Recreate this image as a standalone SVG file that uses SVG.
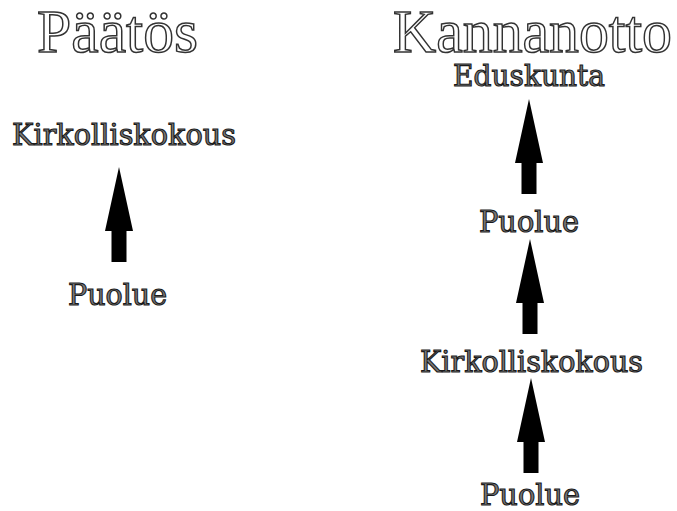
<svg xmlns="http://www.w3.org/2000/svg" width="677" height="511" viewBox="0 0 677 511">
<style>
.title{font-family:"Liberation Serif","DejaVu Serif",serif;font-size:62px;fill:#ffffff;stroke:#333333;stroke-width:1.5px}
.lbl{font-family:"DejaVu Serif","Liberation Serif",serif;font-size:29px;fill:#7a7a7a;stroke:#1a1a1a;stroke-width:1.1px}
.arr{fill:#000000}
</style>
<defs>
<path id="blk" d="M0 0 L14 64 L7.5 64 L7.5 95 L-7.5 95 L-7.5 64 L-14 64 Z"/>
</defs>
<rect width="677" height="511" fill="#ffffff"/>
<g id="title-paatos"><text class="title" x="37" y="52" textLength="161" lengthAdjust="spacingAndGlyphs">Päätös</text></g>
<g id="title-kannanotto"><text class="title" x="393" y="52" textLength="279" lengthAdjust="spacingAndGlyphs">Kannanotto</text></g>
<g id="left-kirkolliskokous"><text class="lbl" x="12" y="145" textLength="224" lengthAdjust="spacingAndGlyphs">Kirkolliskokous</text></g>
<g id="left-puolue"><text class="lbl" x="68" y="305" textLength="99" lengthAdjust="spacingAndGlyphs">Puolue</text></g>
<g id="right-eduskunta"><text class="lbl" x="453" y="86" textLength="152" lengthAdjust="spacingAndGlyphs">Eduskunta</text></g>
<g id="right-puolue-mid"><text class="lbl" x="479" y="232" textLength="100" lengthAdjust="spacingAndGlyphs">Puolue</text></g>
<g id="right-kirkolliskokous"><text class="lbl" x="420" y="372" textLength="223" lengthAdjust="spacingAndGlyphs">Kirkolliskokous</text></g>
<g id="right-puolue-bottom"><text class="lbl" x="480" y="505" textLength="100" lengthAdjust="spacingAndGlyphs">Puolue</text></g>
<g id="connectors" class="arr">
<use href="#blk" transform="translate(119,167)"/>
<use href="#blk" transform="translate(529,99)"/>
<use href="#blk" transform="translate(530,239)"/>
<use href="#blk" transform="translate(531,378)"/>
</g>
</svg>
